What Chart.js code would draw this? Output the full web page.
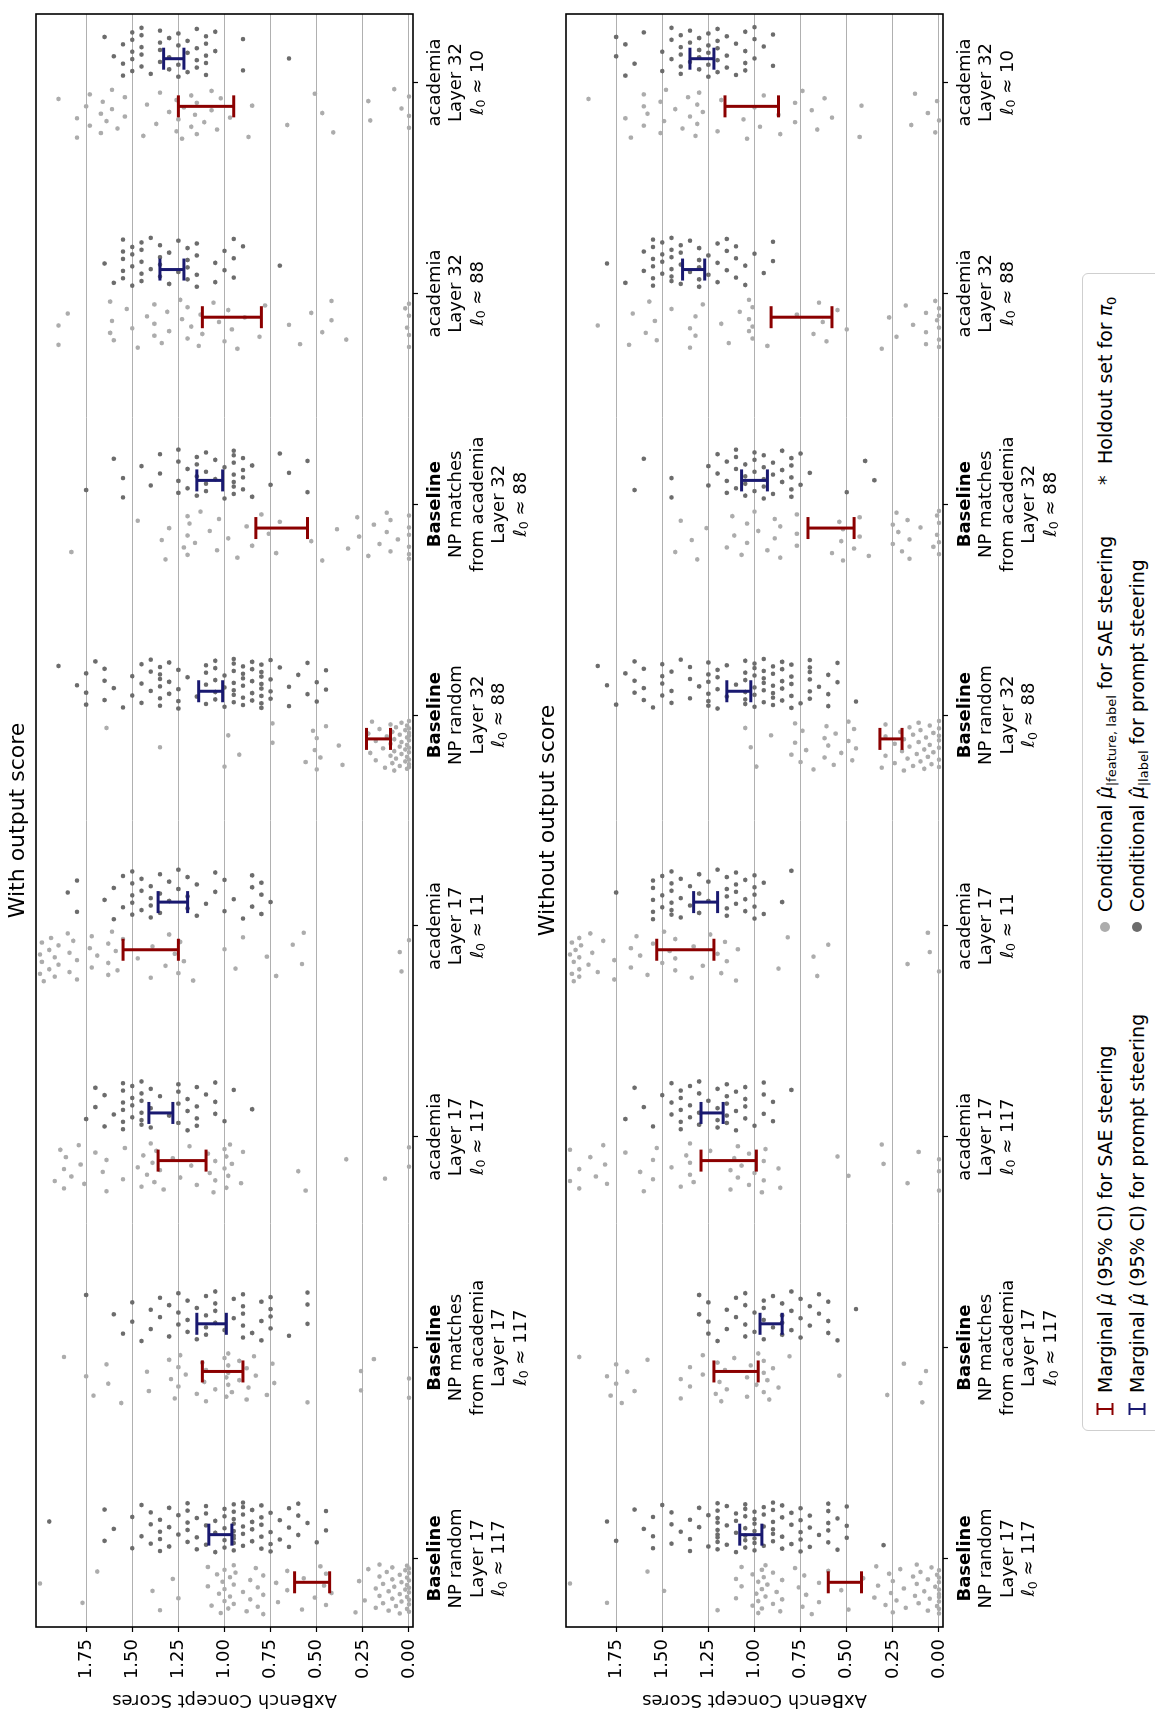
<!DOCTYPE html>
<html>
<head>
<meta charset="utf-8">
<script src="https://cdn.jsdelivr.net/npm/chart.js@4.4.1/dist/chart.umd.min.js"></script>
<style>
  body { margin: 0; overflow: hidden; background: #fff; }
  #fig { position: absolute; left: 0; top: 0; width: 1714px; height: 1155px;
         transform-origin: 0 0; transform: translateY(1714px) rotate(-90deg);
         font-family: "DejaVu Sans"; color: #000; }
  canvas { position: absolute; left: 0; }
  #legend { position: absolute; left: 283px; top: 1082px; width: 1158px; height: 92px;
            border: 1px solid #cfcfcf; border-radius: 6px; box-sizing: border-box; background: #fff; }
  .txt { position: absolute; white-space: nowrap; font-size: 19px; line-height: 24px; }
  .txt sub { font-size: 13px; vertical-align: -4px; line-height: 0; }
  .mk { position: absolute; }
  .dot { position: absolute; width: 10px; height: 10px; border-radius: 50%; }
</style>
</head>
<body>
<div id="fig">
  <canvas id="withScore" width="1714" height="540" style="top:0"></canvas>
  <canvas id="withoutScore" width="1714" height="540" style="top:530px"></canvas>
  <div id="legend">
    <svg class="mk" style="left:14px;top:13px" width="14" height="18"><path d="M1 1.5H13M7 1.5V16.5M1 16.5H13" stroke="#8b0000" stroke-width="2" fill="none"/></svg>
    <span class="txt" style="left:37px;top:10px">Marginal <i>μ&#770;</i> (95% CI) for SAE steering</span>
    <svg class="mk" style="left:14px;top:45px" width="14" height="18"><path d="M1 1.5H13M7 1.5V16.5M1 16.5H13" stroke="#191970" stroke-width="2" fill="none"/></svg>
    <span class="txt" style="left:37px;top:42px">Marginal <i>μ&#770;</i> (95% CI) for prompt steering</span>
    <span class="dot" style="left:498px;top:17px;background:#acacac"></span>
    <span class="txt" style="left:518px;top:10px">Conditional <i>μ&#770;</i><sub>|feature, label</sub> for SAE steering</span>
    <span class="dot" style="left:498px;top:49px;background:#6c6c6c"></span>
    <span class="txt" style="left:518px;top:42px">Conditional <i>μ&#770;</i><sub>|label</sub> for prompt steering</span>
    <span class="txt" style="left:945px;top:10px">*</span>
    <span class="txt" style="left:966px;top:10px">Holdout set for <i>π</i><sub>0</sub></span>
  </div>
</div>
<script>
// categories (x axis)
const categoryLines = [
  ["Baseline", "NP random", "Layer 17"],
  ["Baseline", "NP matches", "from academia", "Layer 17"],
  ["academia", "Layer 17"],
  ["academia", "Layer 17"],
  ["Baseline", "NP random", "Layer 32"],
  ["Baseline", "NP matches", "from academia", "Layer 32"],
  ["academia", "Layer 32"],
  ["academia", "Layer 32"]
];
const categoryL0 = [117, 117, 117, 11, 88, 88, 88, 10];
const scoreTicks = [0, 0.25, 0.5, 0.75, 1.0, 1.25, 1.5, 1.75];

// "With output score": conditional scores, SAE steering (light grey)
const withScoreSAE = [
  [2.00,1.77,1.69,1.39,1.35,1.28,1.25,1.09,1.09,1.07,1.04,1.03,1.02,1.01,1.00,1.00,1.00,0.98,0.97,0.97,0.95,0.95,0.95,0.94,0.90,0.88,0.86,0.86,0.83,0.82,0.82,0.79,0.79,0.79,0.72,0.71,0.66,0.66,0.58,0.57,0.51,0.48,0.46,0.45,0.45,0.42,0.29,0.27,0.24,0.22,0.18,0.18,0.16,0.16,0.16,0.14,0.14,0.12,0.11,0.11,0.09,0.09,0.09,0.08,0.07,0.05,0.05,0.05,0.04,0.04,0.02,0.02,0.01,0.01,0.01,0.01,0.01,0.00,0.00,0.00,0.00,0.00,0.00,0.00,0.00],
  [1.87,1.75,1.71,1.64,1.63,1.56,1.42,1.41,1.30,1.29,1.27,1.25,1.25,1.24,1.21,1.15,1.12,1.11,1.10,1.10,1.05,1.00,0.99,0.99,0.98,0.98,0.98,0.98,0.96,0.92,0.92,0.88,0.88,0.87,0.84,0.83,0.77,0.74,0.73,0.55,0.26,0.26,0.19,0.00,0.00],
  [1.92,1.89,1.87,1.87,1.86,1.83,1.79,1.78,1.76,1.70,1.66,1.64,1.64,1.55,1.54,1.47,1.45,1.44,1.42,1.40,1.39,1.38,1.37,1.35,1.33,1.28,1.24,1.19,1.18,1.15,1.09,1.08,1.06,1.05,1.05,1.00,1.00,0.99,0.99,0.98,0.97,0.96,0.91,0.90,0.60,0.56,0.34,0.13,0.00,0.00],
  [2.00,2.00,1.99,1.99,1.98,1.95,1.95,1.94,1.92,1.92,1.90,1.90,1.85,1.84,1.84,1.82,1.80,1.80,1.73,1.72,1.72,1.69,1.63,1.63,1.63,1.61,1.59,1.58,1.55,1.47,1.40,1.39,1.32,1.30,1.27,1.25,1.24,1.22,1.17,1.00,0.94,0.90,0.77,0.72,0.63,0.58,0.57,0.05,0.04,0.00],
  [1.64,1.35,1.00,0.98,0.92,0.74,0.74,0.56,0.52,0.51,0.50,0.50,0.48,0.45,0.38,0.36,0.22,0.21,0.20,0.18,0.18,0.16,0.14,0.13,0.12,0.10,0.10,0.10,0.09,0.09,0.08,0.08,0.08,0.07,0.07,0.05,0.05,0.05,0.04,0.04,0.04,0.02,0.02,0.02,0.01,0.01,0.01,0.01,0.01,0.00,0.00,0.00,0.00,0.00,0.00,0.00,0.00,0.00,0.00],
  [1.83,1.47,1.34,1.32,1.30,1.22,1.20,1.20,1.20,1.19,1.16,1.13,1.08,1.04,1.03,0.98,0.93,0.88,0.85,0.80,0.76,0.72,0.70,0.53,0.47,0.39,0.33,0.28,0.27,0.22,0.19,0.16,0.12,0.12,0.10,0.10,0.06,0.00,0.00,0.00,0.00,0.00,0.00],
  [1.90,1.90,1.85,1.62,1.62,1.61,1.60,1.53,1.50,1.47,1.42,1.38,1.38,1.38,1.34,1.31,1.30,1.24,1.23,1.20,1.20,1.18,1.14,1.13,1.12,1.06,1.03,1.00,0.98,0.96,0.93,0.89,0.81,0.78,0.65,0.59,0.53,0.47,0.42,0.42,0.34,0.02,0.01,0.00,0.00,0.00,0.00],
  [1.90,1.80,1.80,1.75,1.73,1.73,1.67,1.67,1.66,1.64,1.61,1.61,1.58,1.54,1.54,1.44,1.42,1.37,1.35,1.30,1.26,1.26,1.25,1.23,1.22,1.18,1.18,1.16,1.15,1.15,1.11,1.07,1.07,1.04,1.02,0.97,0.87,0.85,0.66,0.51,0.47,0.41,0.22,0.21,0.08,0.04,0.00,0.00,0.00]
];
// "With output score": conditional scores, prompt steering (dark grey)
const withScorePrompt = [
  [1.95,1.65,1.65,1.60,1.50,1.50,1.45,1.45,1.40,1.40,1.40,1.35,1.35,1.35,1.35,1.30,1.30,1.30,1.25,1.25,1.20,1.20,1.20,1.20,1.20,1.15,1.15,1.15,1.10,1.10,1.10,1.10,1.05,1.05,1.05,1.00,1.00,1.00,1.00,1.00,0.95,0.95,0.95,0.95,0.95,0.95,0.95,0.95,0.95,0.90,0.90,0.90,0.90,0.90,0.90,0.85,0.85,0.85,0.85,0.80,0.80,0.80,0.80,0.80,0.75,0.75,0.75,0.75,0.70,0.70,0.65,0.65,0.65,0.60,0.60,0.60,0.55,0.50,0.45,0.45],
  [1.75,1.60,1.55,1.50,1.50,1.45,1.40,1.40,1.35,1.35,1.30,1.30,1.25,1.25,1.25,1.20,1.20,1.20,1.15,1.15,1.10,1.10,1.10,1.10,1.05,1.05,1.05,1.05,1.00,0.95,0.95,0.90,0.90,0.90,0.90,0.90,0.85,0.80,0.80,0.80,0.75,0.75,0.75,0.75,0.65,0.55,0.55,0.55],
  [1.75,1.70,1.70,1.65,1.65,1.60,1.55,1.55,1.55,1.55,1.55,1.55,1.50,1.50,1.50,1.50,1.45,1.45,1.45,1.45,1.45,1.45,1.40,1.40,1.40,1.35,1.30,1.25,1.25,1.25,1.25,1.20,1.20,1.20,1.15,1.15,1.15,1.15,1.10,1.05,1.05,1.05,1.00,0.95,0.85],
  [1.85,1.80,1.80,1.65,1.60,1.60,1.55,1.55,1.50,1.50,1.50,1.50,1.50,1.45,1.45,1.45,1.40,1.40,1.40,1.40,1.35,1.35,1.35,1.30,1.30,1.25,1.25,1.20,1.20,1.20,1.15,1.15,1.10,1.05,1.05,1.00,1.00,0.95,0.90,0.85,0.85,0.85,0.80,0.80,0.80,0.75],
  [1.90,1.80,1.75,1.75,1.75,1.70,1.65,1.65,1.65,1.60,1.55,1.50,1.50,1.45,1.45,1.45,1.40,1.40,1.40,1.35,1.35,1.35,1.35,1.35,1.35,1.30,1.30,1.30,1.25,1.25,1.25,1.25,1.20,1.15,1.10,1.10,1.10,1.10,1.05,1.05,1.05,1.05,1.05,1.00,1.00,1.00,0.95,0.95,0.95,0.95,0.95,0.95,0.95,0.90,0.90,0.90,0.90,0.90,0.90,0.85,0.85,0.85,0.85,0.85,0.80,0.80,0.80,0.80,0.80,0.80,0.80,0.80,0.75,0.75,0.75,0.75,0.70,0.65,0.65,0.60,0.55,0.55,0.50,0.50,0.45,0.45],
  [1.75,1.60,1.55,1.55,1.45,1.40,1.35,1.35,1.25,1.25,1.25,1.25,1.20,1.20,1.15,1.15,1.15,1.15,1.10,1.10,1.10,1.10,1.05,1.05,1.00,1.00,0.95,0.95,0.95,0.95,0.95,0.95,0.95,0.90,0.90,0.90,0.90,0.85,0.85,0.75,0.70,0.65,0.55,0.55],
  [1.65,1.60,1.55,1.55,1.55,1.55,1.55,1.50,1.50,1.50,1.50,1.45,1.45,1.45,1.45,1.45,1.40,1.40,1.35,1.35,1.35,1.35,1.30,1.30,1.25,1.25,1.20,1.20,1.20,1.20,1.15,1.15,1.15,1.15,1.05,1.05,1.00,1.00,0.95,0.95,0.95,0.90,0.70],
  [1.65,1.60,1.55,1.55,1.55,1.50,1.50,1.50,1.50,1.50,1.45,1.45,1.45,1.45,1.45,1.40,1.35,1.35,1.35,1.35,1.30,1.30,1.30,1.25,1.25,1.25,1.25,1.20,1.20,1.20,1.15,1.15,1.15,1.15,1.10,1.10,1.10,1.10,1.10,1.05,1.05,0.90,0.90,0.65]
];
// "With output score": marginal 95% CI
const withScoreSAELo = [0.43, 0.90, 1.10, 1.25, 0.10, 0.55, 0.80, 0.95];
const withScoreSAEHi = [0.62, 1.12, 1.36, 1.55, 0.23, 0.83, 1.12, 1.25];
const withScorePromptLo = [0.96, 0.99, 1.28, 1.20, 1.01, 1.01, 1.22, 1.22];
const withScorePromptHi = [1.085, 1.15, 1.41, 1.36, 1.14, 1.15, 1.35, 1.33];

// "Without output score": conditional scores, SAE steering
const withoutScoreSAE = [
  [2.00,1.80,1.58,1.49,1.20,1.10,1.10,1.07,1.07,1.01,1.01,0.99,0.98,0.98,0.98,0.96,0.96,0.96,0.95,0.94,0.94,0.93,0.90,0.90,0.88,0.86,0.85,0.85,0.78,0.76,0.74,0.73,0.72,0.69,0.65,0.65,0.60,0.53,0.49,0.41,0.35,0.34,0.33,0.29,0.27,0.26,0.25,0.25,0.23,0.21,0.19,0.18,0.14,0.13,0.12,0.12,0.11,0.10,0.08,0.06,0.06,0.05,0.04,0.02,0.01,0.01,0.00,0.00,0.00,0.00,0.00,0.00,0.00,0.00,0.00],
  [1.95,1.80,1.78,1.75,1.75,1.72,1.69,1.65,1.58,1.40,1.40,1.35,1.35,1.28,1.28,1.21,1.20,1.19,1.18,1.16,1.15,1.11,1.04,1.04,1.02,0.99,0.98,0.95,0.95,0.95,0.93,0.92,0.90,0.87,0.81,0.54,0.28,0.19,0.10,0.09,0.07],
  [2.00,2.00,1.95,1.95,1.89,1.86,1.82,1.81,1.80,1.70,1.62,1.60,1.55,1.55,1.53,1.45,1.40,1.37,1.35,1.35,1.35,1.33,1.24,1.13,1.13,1.11,1.09,1.09,1.07,1.03,1.03,1.00,0.96,0.95,0.95,0.94,0.87,0.86,0.55,0.49,0.31,0.30,0.17,0.11,0.00,0.00,0.00],
  [2.00,1.99,1.99,1.98,1.98,1.97,1.95,1.95,1.95,1.95,1.94,1.90,1.89,1.88,1.85,1.82,1.76,1.76,1.67,1.67,1.64,1.62,1.58,1.55,1.50,1.49,1.46,1.43,1.43,1.43,1.34,1.33,1.28,1.24,1.20,1.18,1.16,1.15,1.10,1.09,0.87,0.82,0.68,0.66,0.60,0.17,0.06,0.05,0.00],
  [1.05,1.02,0.99,0.91,0.80,0.78,0.78,0.75,0.74,0.72,0.68,0.62,0.62,0.61,0.60,0.57,0.56,0.53,0.49,0.49,0.47,0.46,0.45,0.31,0.29,0.29,0.29,0.24,0.24,0.21,0.20,0.19,0.19,0.17,0.16,0.16,0.14,0.14,0.12,0.11,0.11,0.10,0.10,0.08,0.08,0.07,0.06,0.05,0.05,0.04,0.03,0.03,0.00,0.00,0.00,0.00,0.00,0.00,0.00],
  [1.43,1.40,1.34,1.31,1.26,1.15,1.12,1.11,1.07,1.04,1.04,1.00,0.98,0.93,0.89,0.89,0.86,0.86,0.77,0.77,0.77,0.58,0.54,0.53,0.52,0.52,0.46,0.43,0.43,0.38,0.25,0.25,0.23,0.22,0.20,0.17,0.16,0.16,0.10,0.03,0.01,0.01,0.00,0.00,0.00,0.00],
  [1.85,1.68,1.66,1.59,1.57,1.54,1.53,1.45,1.35,1.35,1.32,1.32,1.28,1.18,1.14,1.08,1.03,1.03,1.03,1.01,1.01,1.01,0.93,0.77,0.68,0.65,0.63,0.61,0.55,0.50,0.31,0.27,0.23,0.18,0.14,0.07,0.07,0.07,0.02,0.01,0.00,0.00,0.00,0.00,0.00],
  [1.90,1.70,1.67,1.60,1.60,1.60,1.58,1.51,1.51,1.49,1.48,1.43,1.39,1.36,1.35,1.32,1.31,1.31,1.30,1.28,1.20,1.18,1.06,1.04,1.00,0.97,0.95,0.87,0.86,0.78,0.78,0.74,0.69,0.66,0.62,0.58,0.43,0.42,0.15,0.13,0.06,0.02,0.01,0.00]
];
// "Without output score": conditional scores, prompt steering
const withoutScorePrompt = [
  [1.80,1.75,1.65,1.60,1.55,1.55,1.55,1.50,1.45,1.45,1.45,1.40,1.35,1.35,1.35,1.30,1.30,1.25,1.25,1.20,1.20,1.20,1.20,1.20,1.20,1.20,1.20,1.20,1.15,1.15,1.15,1.10,1.10,1.10,1.10,1.05,1.05,1.05,1.05,1.05,1.05,1.05,1.00,1.00,1.00,1.00,1.00,1.00,1.00,0.95,0.95,0.95,0.95,0.90,0.90,0.90,0.90,0.90,0.90,0.85,0.85,0.85,0.85,0.80,0.80,0.80,0.75,0.75,0.75,0.75,0.75,0.70,0.70,0.70,0.65,0.60,0.60,0.60,0.60,0.60,0.55,0.55,0.50,0.50,0.50,0.30],
  [1.30,1.30,1.25,1.25,1.25,1.20,1.15,1.15,1.10,1.10,1.05,1.05,1.05,1.05,1.00,1.00,0.95,0.95,0.95,0.95,0.90,0.90,0.85,0.85,0.85,0.85,0.80,0.80,0.80,0.75,0.75,0.75,0.70,0.70,0.65,0.65,0.60,0.60,0.60,0.55,0.45],
  [1.70,1.65,1.60,1.55,1.50,1.45,1.45,1.45,1.40,1.40,1.40,1.40,1.40,1.35,1.35,1.35,1.30,1.30,1.30,1.30,1.25,1.20,1.20,1.20,1.20,1.15,1.15,1.15,1.15,1.15,1.10,1.10,1.10,1.05,1.05,1.05,1.05,1.00,0.95,0.95,0.95,0.90,0.90,0.80],
  [1.75,1.55,1.55,1.55,1.55,1.55,1.50,1.50,1.50,1.45,1.45,1.45,1.45,1.45,1.45,1.40,1.40,1.40,1.35,1.35,1.30,1.30,1.30,1.25,1.25,1.20,1.15,1.15,1.15,1.15,1.15,1.10,1.10,1.10,1.10,1.05,1.05,1.05,1.00,1.00,1.00,1.00,1.00,0.95,0.95,0.85,0.80],
  [1.85,1.80,1.75,1.70,1.65,1.65,1.65,1.60,1.60,1.60,1.55,1.50,1.50,1.50,1.50,1.45,1.45,1.45,1.40,1.35,1.35,1.35,1.30,1.25,1.25,1.25,1.25,1.25,1.25,1.20,1.20,1.20,1.20,1.15,1.15,1.10,1.05,1.05,1.05,1.05,1.05,1.05,1.00,1.00,1.00,1.00,1.00,1.00,0.95,0.95,0.95,0.95,0.95,0.95,0.90,0.90,0.90,0.90,0.90,0.90,0.85,0.85,0.85,0.85,0.85,0.80,0.80,0.80,0.80,0.80,0.75,0.70,0.70,0.70,0.70,0.70,0.70,0.65,0.60,0.60,0.60,0.55,0.55,0.45],
  [1.65,1.60,1.45,1.45,1.25,1.25,1.20,1.20,1.15,1.15,1.15,1.10,1.10,1.10,1.10,1.05,1.05,1.05,1.05,1.00,1.00,1.00,1.00,0.95,0.95,0.95,0.95,0.95,0.90,0.90,0.90,0.85,0.85,0.85,0.80,0.80,0.80,0.80,0.80,0.75,0.75,0.70,0.50,0.40,0.35],
  [1.80,1.70,1.60,1.60,1.55,1.55,1.55,1.55,1.55,1.55,1.50,1.50,1.50,1.50,1.45,1.45,1.45,1.45,1.45,1.45,1.40,1.40,1.40,1.40,1.35,1.35,1.30,1.30,1.30,1.30,1.30,1.25,1.25,1.20,1.20,1.20,1.15,1.15,1.15,1.10,1.10,1.10,1.05,1.05,1.00,0.95,0.90,0.90],
  [1.75,1.75,1.70,1.70,1.65,1.60,1.50,1.50,1.45,1.45,1.45,1.40,1.40,1.40,1.40,1.40,1.35,1.35,1.35,1.30,1.30,1.30,1.30,1.25,1.25,1.25,1.25,1.25,1.20,1.20,1.20,1.20,1.20,1.15,1.15,1.15,1.10,1.10,1.05,1.05,1.05,1.05,1.00,1.00,1.00,0.95,0.90,0.90]
];
const withoutScoreSAELo = [0.42, 0.98, 0.99, 1.22, 0.20, 0.46, 0.58, 0.87];
const withoutScoreSAEHi = [0.60, 1.22, 1.29, 1.53, 0.32, 0.71, 0.91, 1.16];
const withoutScorePromptLo = [0.96, 0.85, 1.17, 1.20, 1.02, 0.93, 1.27, 1.22];
const withoutScorePromptHi = [1.08, 0.97, 1.29, 1.33, 1.15, 1.07, 1.39, 1.35];

const RED = "#8b0000", BLUE = "#191970", LIGHT = "#acacac", DARK = "#6c6c6c";
const DODGE = 0.147, JITTER = 0.24, BAR_OFF = 0.113;

Chart.defaults.font.family = '"DejaVu Sans"';
Chart.defaults.color = "#000";

// strip plot: spread points of one group sideways (even spacing, not data)
function stripData(groups, side) {
  const out = [];
  groups.forEach((vals, c) => {
    vals.forEach((v, i) => {
      const j = ((i + 1) * 0.6180339887 + c * 0.31) % 1 - 0.5;
      out.push({ x: c + side * DODGE + j * JITTER, y: v });
    });
  });
  return out;
}

function barData(lo, hi, dx) {
  const out = [];
  lo.forEach((l, c) => {
    out.push({ x: c + dx, y: l }, { x: c + dx, y: hi[c] }, { x: c + dx, y: null });
  });
  return out;
}

// panel title, frame and category labels (mixed bold / subscript text)
const decor = {
  id: "decor",
  afterDraw(chart, args, opts) {
    const { ctx, chartArea: a } = chart;
    const xs = chart.scales.x;
    ctx.save();
    ctx.strokeStyle = "#000";
    ctx.lineWidth = 1.6;
    ctx.strokeRect(a.left, a.top, a.right - a.left, a.bottom - a.top);
    ctx.fillStyle = "#000";
    ctx.textBaseline = "middle";
    ctx.textAlign = "center";
    ctx.font = '22px "DejaVu Sans"';
    ctx.fillText(opts.title, (a.left + a.right) / 2, 18);
    categoryLines.forEach((lines, c) => {
      const px = xs.getPixelForValue(c);
      let py = a.bottom + 22;
      ctx.textAlign = "center";
      lines.forEach(t => {
        ctx.font = (t === "Baseline" ? "bold " : "") + '18px "DejaVu Sans"';
        ctx.fillText(t, px, py);
        py += 21.5;
      });
      const parts = [
        ["ℓ", 'italic 18px "DejaVu Sans"', 0],
        ["0", '12.5px "DejaVu Sans"', 4],
        [" ≈ " + categoryL0[c], '18px "DejaVu Sans"', 0]
      ];
      let w = 0;
      parts.forEach(p => { ctx.font = p[1]; w += ctx.measureText(p[0]).width; });
      let sx = px - w / 2;
      ctx.textAlign = "left";
      parts.forEach(p => {
        ctx.font = p[1];
        ctx.fillText(p[0], sx, py + p[2]);
        sx += ctx.measureText(p[0]).width;
      });
    });
    ctx.restore();
  }
};

function makePanel(id, title, sae, prompt, saeLo, saeHi, promptLo, promptHi) {
  return new Chart(document.getElementById(id), {
    type: "scatter",
    data: {
      datasets: [
        { data: barData(saeLo, saeHi, -BAR_OFF), showLine: true, borderColor: RED, borderWidth: 3,
          pointStyle: "line", pointRadius: 11, pointBorderColor: RED, pointBorderWidth: 3, order: 0 },
        { data: barData(promptLo, promptHi, BAR_OFF), showLine: true, borderColor: BLUE, borderWidth: 3,
          pointStyle: "line", pointRadius: 11, pointBorderColor: BLUE, pointBorderWidth: 3, order: 0 },
        { data: stripData(sae, -1), pointRadius: 2.3, pointBackgroundColor: LIGHT, pointBorderWidth: 0, order: 1 },
        { data: stripData(prompt, 1), pointRadius: 2.3, pointBackgroundColor: DARK, pointBorderWidth: 0, order: 1 }
      ]
    },
    options: {
      responsive: false,
      animation: false,
      devicePixelRatio: 1,
      events: [],
      layout: { padding: { left: 0, right: 3, top: 36, bottom: 0 } },
      plugins: {
        legend: { display: false },
        tooltip: { enabled: false },
        decor: { title: title }
      },
      scales: {
        x: {
          type: "linear", bounds: "data", min: -0.325, max: 7.325,
          afterBuildTicks: s => { s.ticks = categoryLines.map((_, i) => ({ value: i })); },
          afterFit: s => { s.height = 127; },
          ticks: { display: false },
          grid: { drawOnChartArea: false, drawTicks: true, tickLength: 5, tickColor: "#000", tickWidth: 1.2 },
          border: { display: false }
        },
        y: {
          type: "linear", bounds: "data", min: -0.022, max: 2.022,
          afterBuildTicks: s => { s.ticks = scoreTicks.map(v => ({ value: v })); },
          afterFit: s => { s.width = 87; },
          ticks: { color: "#000", font: { size: 18 }, padding: 7, callback: v => v.toFixed(2) },
          grid: { color: "#b0b0b0", lineWidth: 1, tickColor: "#000", tickLength: 5, tickWidth: 1.2 },
          border: { display: false },
          title: { display: true, text: "AxBench Concept Scores", color: "#000", font: { size: 18 } }
        }
      }
    },
    plugins: [decor]
  });
}

makePanel("withScore", "With output score", withScoreSAE, withScorePrompt,
  withScoreSAELo, withScoreSAEHi, withScorePromptLo, withScorePromptHi);
makePanel("withoutScore", "Without output score", withoutScoreSAE, withoutScorePrompt,
  withoutScoreSAELo, withoutScoreSAEHi, withoutScorePromptLo, withoutScorePromptHi);
</script>
</body>
</html>
